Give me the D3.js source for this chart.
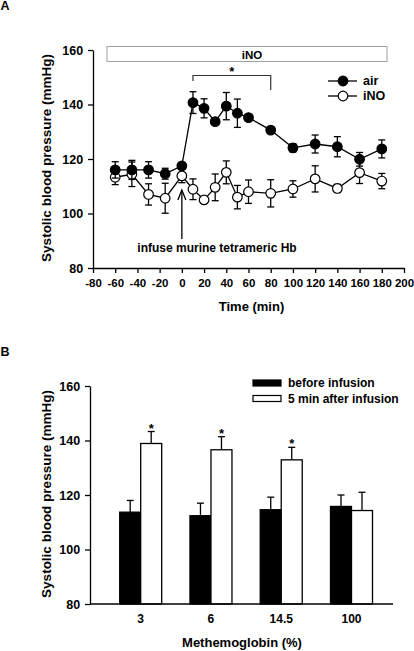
<!DOCTYPE html>
<html><head><meta charset="utf-8">
<script src="https://cdn.jsdelivr.net/npm/d3@7"></script>
<style>body{margin:0;background:#fff}svg{display:block}text{font-family:"Liberation Sans",Arial,sans-serif;font-weight:bold;fill:#000}</style>
</head><body>
<script>
// Panel A data
const times = [-60,-45,-30,-15,0,10,20,30,40,50,60,80,100,120,140,160,180];
const airMean = [116,116,116,114.6,117.5,140.7,138.6,133.7,139.4,136.8,135.2,130.6,124.1,125.5,124.5,119.9,123.7];
const airErr  = [3,3.5,3,2,1,4,3.5,1,5,5.2,1,1,1.5,3.3,3.7,2.5,3.3];
const inoMean = [113.3,114.4,107,105.6,113.8,108.9,105,109.6,115.1,106,108,107.4,109,112.7,109.2,115,111.9];
const inoErr  = [2.7,4.5,3.9,5.5,2.5,3.8,1,4.9,4.2,4.3,4.3,5,3,4.8,1.5,4,2.8];
const xTicksA = [-80,-60,-40,-20,0,20,40,60,80,100,120,140,160,180,200];
const yTicks = [80,100,120,140,160];
// Panel B data
const mhbCats = ["3","6","14.5","100"];
const beforeMean = [113.7,112.4,114.6,115.8];
const beforeErr = [4.3,4.6,4.6,4.2];
const afterMean = [138.9,136.6,132.9,114.3];
const afterErr = [4.4,4.8,4.6,6.7];
const afterSig = [true,true,true,false];

const svg = d3.select("body").append("svg").attr("width",414).attr("height",651);

// ---------- Panel A ----------
const xA = d3.scaleLinear().domain([-80,200]).range([93,404]);
const yA = d3.scaleLinear().domain([80,160]).range([268,50]);
const gA = svg.append("g");

gA.append("text").attr("x",0.5).attr("y",9.5).attr("font-size",12.5).text("A");

// iNO box
gA.append("rect").attr("x",107).attr("y",46.5).attr("width",280).attr("height",15)
  .attr("fill","#fff").attr("stroke","#a0a0a0").attr("stroke-width",1);
gA.append("text").attr("x",252).attr("y",58.5).attr("text-anchor","middle").attr("font-size",11.5).text("iNO");

// bracket
gA.append("path").attr("d",`M${xA(10)},81V75.5H${xA(80)}V90`).attr("fill","none").attr("stroke","#333").attr("stroke-width",1.2);
gA.append("text").attr("x",(xA(10)+xA(80))/2).attr("y",76).attr("text-anchor","middle").attr("font-size",13).text("*");

// axes
const axA = d3.axisBottom(xA).tickValues(xTicksA).tickSize(5).tickSizeOuter(0).tickFormat(d=>String(d));
const axGA = gA.append("g").attr("transform","translate(0,268)").call(axA);
axGA.selectAll("text").attr("font-size",11.5).attr("dy","0.95em").attr("font-family","Liberation Sans").attr("font-weight","bold").attr("fill","#000");
const ayA = d3.axisLeft(yA).tickValues(yTicks).tickSize(5).tickSizeOuter(0);
const ayGA = gA.append("g").attr("transform","translate(93,0)").call(ayA);
ayGA.selectAll("text").attr("font-size",12.5).attr("dx","-0.15em").attr("font-family","Liberation Sans").attr("font-weight","bold").attr("fill","#000");
[axGA,ayGA].forEach(g=>{g.selectAll("path,line").attr("stroke","#000").attr("stroke-width",1.3);});

gA.append("text").attr("transform","translate(51,158) rotate(-90)").attr("text-anchor","middle").attr("font-size",13.5).text("Systolic blood pressure (mmHg)");
gA.append("text").attr("x",xA(60)+3).attr("y",311).attr("text-anchor","middle").attr("font-size",13).text("Time (min)");

// arrow + annotation
gA.append("line").attr("x1",xA(0)).attr("x2",xA(0)).attr("y1",190).attr("y2",239).attr("stroke","#000").attr("stroke-width",1.3);
gA.append("path").attr("d",`M${xA(0)-4},200L${xA(0)},190L${xA(0)+4},200`).attr("fill","none").attr("stroke","#000").attr("stroke-width",1.3);
gA.append("text").attr("x",217).attr("y",252).attr("text-anchor","middle").attr("font-size",12).text("infuse murine tetrameric Hb");

function series(mean, err, fill){
  const g = gA.append("g");
  const data = times.map((t,i)=>({t,m:mean[i],e:err[i]}));
  g.append("path").datum(data).attr("fill","none").attr("stroke","#000").attr("stroke-width",1.3)
    .attr("d",d3.line().x(d=>xA(d.t)).y(d=>yA(d.m)));
  const eb = g.selectAll(".eb").data(data).enter().append("g");
  eb.append("line").attr("x1",d=>xA(d.t)).attr("x2",d=>xA(d.t)).attr("y1",d=>yA(d.m-d.e)).attr("y2",d=>yA(d.m+d.e)).attr("stroke","#000").attr("stroke-width",1.3);
  eb.append("line").attr("x1",d=>xA(d.t)-3.5).attr("x2",d=>xA(d.t)+3.5).attr("y1",d=>yA(d.m+d.e)).attr("y2",d=>yA(d.m+d.e)).attr("stroke","#000").attr("stroke-width",1.3);
  eb.append("line").attr("x1",d=>xA(d.t)-3.5).attr("x2",d=>xA(d.t)+3.5).attr("y1",d=>yA(d.m-d.e)).attr("y2",d=>yA(d.m-d.e)).attr("stroke","#000").attr("stroke-width",1.3);
  g.selectAll("circle").data(data).enter().append("circle").attr("cx",d=>xA(d.t)).attr("cy",d=>yA(d.m)).attr("r",4.8)
    .attr("fill",fill).attr("stroke","#000").attr("stroke-width",1.2);
}
series(inoMean, inoErr, "#fff");
series(airMean, airErr, "#000");

// legend A
[["air","#000",81],["iNO","#fff",96]].forEach(([lab,f,y])=>{
  gA.append("line").attr("x1",328).attr("x2",357).attr("y1",y).attr("y2",y).attr("stroke","#000").attr("stroke-width",1.3);
  gA.append("circle").attr("cx",343).attr("cy",y).attr("r",4.8).attr("fill",f).attr("stroke","#000").attr("stroke-width",1.2);
  gA.append("text").attr("x",363).attr("y",y+4.3).attr("font-size",12.5).text(lab);
});

// ---------- Panel B ----------
const yB = d3.scaleLinear().domain([80,160]).range([604,386]);
const xB = d3.scalePoint().domain(mhbCats).range([140.7,351.5]);
const barW = 21;
const gB = svg.append("g");
gB.append("text").attr("x",0.5).attr("y",356).attr("font-size",12.5).text("B");

const groups = mhbCats.map((c,i)=>({c,b:beforeMean[i],be:beforeErr[i],a:afterMean[i],ae:afterErr[i],s:afterSig[i]}));
function bars(key, errKey, off, fill){
  const g = gB.append("g");
  g.selectAll("line.e").data(groups).enter().append("line").attr("x1",d=>xB(d.c)+off+barW/2).attr("x2",d=>xB(d.c)+off+barW/2)
    .attr("y1",d=>yB(d[key])).attr("y2",d=>yB(d[key]+d[errKey])).attr("stroke","#000").attr("stroke-width",1.3);
  g.selectAll("line.c").data(groups).enter().append("line").attr("x1",d=>xB(d.c)+off+barW/2-3.5).attr("x2",d=>xB(d.c)+off+barW/2+3.5)
    .attr("y1",d=>yB(d[key]+d[errKey])).attr("y2",d=>yB(d[key]+d[errKey])).attr("stroke","#000").attr("stroke-width",1.3);
  g.selectAll("rect").data(groups).enter().append("rect").attr("x",d=>xB(d.c)+off).attr("width",barW)
    .attr("y",d=>yB(d[key])).attr("height",d=>yB(80)-yB(d[key])).attr("fill",fill).attr("stroke","#000").attr("stroke-width",1.3);
}
bars("b","be",-barW,"#000");
bars("a","ae",0,"#fff");
gB.selectAll("text.star").data(groups.filter(d=>d.s)).enter().append("text").attr("class","star")
  .attr("x",d=>xB(d.c)+barW/2).attr("y",d=>yB(d.a+d.ae)+1).attr("text-anchor","middle").attr("font-size",13).text("*");

const ayB = d3.axisLeft(yB).tickValues(yTicks).tickSize(5).tickSizeOuter(0);
const ayGB = gB.append("g").attr("transform","translate(90,0)").call(ayB);
ayGB.selectAll("text").attr("font-size",12.5).attr("dx","-0.15em").attr("font-family","Liberation Sans").attr("font-weight","bold").attr("fill","#000");
ayGB.selectAll("path,line").attr("stroke","#000").attr("stroke-width",1.3);
gB.append("line").attr("x1",90).attr("x2",393).attr("y1",604).attr("y2",604).attr("stroke","#000").attr("stroke-width",1.3);
gB.selectAll("text.xl").data(mhbCats).enter().append("text").attr("class","xl").attr("x",d=>xB(d)).attr("y",623)
  .attr("text-anchor","middle").attr("font-size",12).text(d=>d);
gB.append("text").attr("x",242).attr("y",647).attr("text-anchor","middle").attr("font-size",13).text("Methemoglobin (%)");
gB.append("text").attr("transform","translate(51,494) rotate(-90)").attr("text-anchor","middle").attr("font-size",13.5).text("Systolic blood pressure (mmHg)");

// legend B
[["before infusion","#000",383],["5 min after infusion","#fff",398.5]].forEach(([lab,f,y])=>{
  gB.append("rect").attr("x",253).attr("y",y-3).attr("width",28).attr("height",6).attr("fill",f).attr("stroke","#000").attr("stroke-width",1.2);
  gB.append("text").attr("x",288).attr("y",y+4).attr("font-size",12).text(lab);
});
</script>
</body></html>
